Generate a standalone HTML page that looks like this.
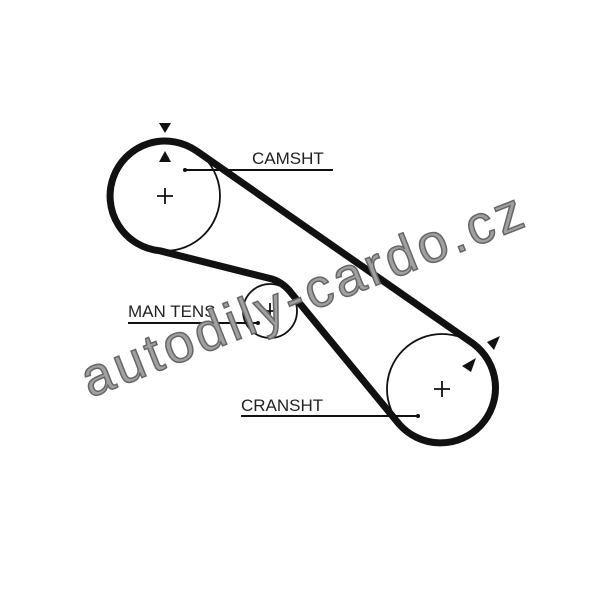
<!DOCTYPE html>
<html><head><style>body{margin:0;background:#fff}</style></head><body>
<svg width="600" height="589" viewBox="0 0 600 589" xmlns="http://www.w3.org/2000/svg">
<rect width="600" height="589" fill="#fff"/>
<g fill="none" stroke="#111">
<circle cx="165" cy="196" r="55" stroke-width="1.8"/>
<circle cx="442" cy="389" r="55" stroke-width="1.8"/>
<circle cx="270" cy="311" r="27" stroke-width="1.8"/>
<path d="M165 196 m-8 0 h16 m-8 -8 v16 M442 389 m-8 0 h16 m-8 -8 v16 M270 311 m-8 0 h16 m-8 -8 v16" stroke-width="1.8"/>
<path d="M196.5 150.9 A55 55 0 1 0 160 250.8 L272 279 Q284 283 292 294 L399 424 A55 55 0 1 0 473.5 343.9 Z" stroke-width="7" stroke-linejoin="round"/>
<path d="M185 170 H333 M128 323 H258 M241 416 H418" stroke-width="2"/>
</g>
<circle cx="185" cy="170" r="2" fill="#111"/><circle cx="258" cy="323" r="2" fill="#111"/><circle cx="418" cy="416" r="2" fill="#111"/>
<polygon points="159,123 171,123 165,133" fill="#111"/>
<polygon points="159,162 171,162 165,151" fill="#111"/>
<polygon points="500,336 487,342 494,350" fill="#111"/>
<polygon points="462,366 476,358 471,372" fill="#111"/>
<g font-family="Liberation Sans, sans-serif" font-size="17" fill="#222">
<text x="252" y="164">CAMSHT</text>
<text x="128" y="317">MAN TENS</text>
<text x="241" y="411">CRANSHT</text>
</g>
<text x="0" y="0" transform="translate(90,398) rotate(-21.5)" font-family="Liberation Sans, sans-serif" font-size="54" fill="#a0a0a0" stroke="#666" stroke-width="1.5" textLength="470">autodily-cardo.cz</text>
</svg>
</body></html>
